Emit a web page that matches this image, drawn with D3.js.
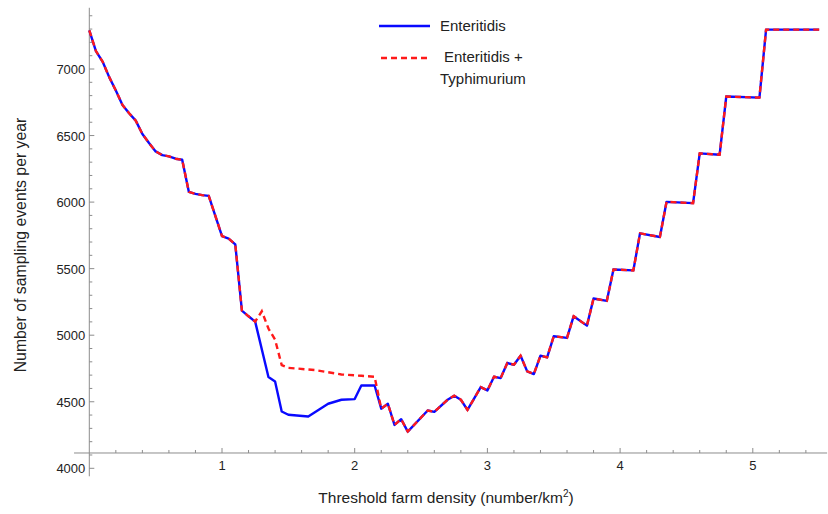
<!DOCTYPE html>
<html>
<head>
<meta charset="utf-8">
<script src="https://cdn.jsdelivr.net/npm/d3@7"></script>
<style>
  body { margin: 0; background: #fff; }
  svg { font-family: "Liberation Sans", Arial, sans-serif; }
</style>
</head>
<body>
<div id="graph_draw"></div>
<script>
// threshold farm density (number/km2) and sampling events per year
var thresholdE = [0, 0.05, 0.1, 0.15, 0.2, 0.25, 0.3, 0.35, 0.4, 0.45, 0.5, 0.55, 0.6, 0.65, 0.7,
    0.75, 0.8, 0.85, 0.9, 1.0, 1.05, 1.1, 1.15, 1.2, 1.25, 1.35, 1.4, 1.45, 1.5, 1.65, 1.8, 1.9,
    2.0, 2.05, 2.15, 2.2, 2.25, 2.3, 2.35, 2.4, 2.55, 2.6, 2.7, 2.75, 2.8, 2.85, 2.95, 3.0, 3.05,
    3.1, 3.15, 3.2, 3.25, 3.3, 3.35, 3.4, 3.45, 3.5, 3.6, 3.65, 3.75, 3.8, 3.9, 3.95, 4.1, 4.15,
    4.3, 4.35, 4.55, 4.6, 4.75, 4.8, 5.05, 5.1, 5.5];
var eventsE = [7290, 7135, 7056, 6939, 6838, 6730, 6668, 6612, 6512, 6444, 6381, 6353, 6344, 6326, 6318,
    6077, 6062, 6052, 6047, 5745, 5726, 5683, 5185, 5142, 5102, 4686, 4653, 4427, 4402, 4389, 4485, 4515,
    4520, 4622, 4622, 4448, 4485, 4326, 4369, 4276, 4434, 4424, 4515, 4545, 4515, 4439, 4610, 4585, 4688,
    4678, 4791, 4778, 4846, 4728, 4708, 4846, 4834, 4992, 4980, 5143, 5072, 5276, 5258, 5494, 5487, 5765,
    5738, 6002, 5992, 6366, 6356, 6793, 6785, 7296, 7296];

var thresholdET = [0, 0.05, 0.1, 0.15, 0.2, 0.25, 0.3, 0.35, 0.4, 0.45, 0.5, 0.55, 0.6, 0.65, 0.7,
    0.75, 0.8, 0.85, 0.9, 1.0, 1.05, 1.1, 1.15, 1.2, 1.25, 1.3, 1.35, 1.4, 1.45, 1.5, 1.7, 1.9,
    2.05, 2.15, 2.2, 2.25, 2.3, 2.35, 2.4, 2.55, 2.6, 2.7, 2.75, 2.8, 2.85, 2.95, 3.0, 3.05,
    3.1, 3.15, 3.2, 3.25, 3.3, 3.35, 3.4, 3.45, 3.5, 3.6, 3.65, 3.75, 3.8, 3.9, 3.95, 4.1, 4.15,
    4.3, 4.35, 4.55, 4.6, 4.75, 4.8, 5.05, 5.1, 5.5];
var eventsET = [7290, 7135, 7056, 6939, 6838, 6730, 6668, 6612, 6512, 6444, 6381, 6353, 6344, 6326, 6318,
    6077, 6062, 6052, 6047, 5745, 5726, 5683, 5185, 5142, 5102, 5180, 5050, 4967, 4775, 4755, 4738, 4705,
    4695, 4688, 4448, 4485, 4326, 4369, 4276, 4434, 4424, 4515, 4545, 4515, 4439, 4610, 4585, 4688,
    4678, 4791, 4778, 4846, 4728, 4708, 4846, 4834, 4992, 4980, 5143, 5072, 5276, 5258, 5494, 5487, 5765,
    5738, 6002, 5992, 6366, 6356, 6793, 6785, 7296, 7296];

var xTicks = [1, 2, 3, 4, 5];
var yTicks = [4000, 4500, 5000, 5500, 6000, 6500, 7000];
var legendLabels = ["Enteritidis", ["Enteritidis +", "Typhimurium"]];

var width = 828, height = 514;

var svg = d3.select("#graph_draw").append("svg")
    .attr("width", width)
    .attr("height", height);

// scales
var x = d3.scaleLinear().domain([0, 5]).range([89.3, 752.8]);
var y = d3.scaleLinear().domain([4000, 7000]).range([468.3, 69]);

var axisColor = "#8c8c8c";
var xAxisY = y(4115);

// x axis line
svg.append("line")
    .attr("x1", x(-0.115)).attr("x2", x(5.56))
    .attr("y1", xAxisY).attr("y2", xAxisY)
    .attr("stroke", axisColor).attr("stroke-width", 1);

// y axis line
svg.append("line")
    .attr("x1", x(0)).attr("x2", x(0))
    .attr("y1", y(7460)).attr("y2", y(3940))
    .attr("stroke", axisColor).attr("stroke-width", 1);

// x ticks (pointing into the plot)
var xMinor = d3.range(0.2, 5.6, 0.2).filter(function(d) { return Math.abs(d - Math.round(d)) > 0.01; });
svg.selectAll(".xminor").data(xMinor).enter().append("line")
    .attr("x1", function(d) { return x(d); }).attr("x2", function(d) { return x(d); })
    .attr("y1", xAxisY).attr("y2", xAxisY - 3)
    .attr("stroke", axisColor);
svg.selectAll(".xmajor").data(xTicks).enter().append("line")
    .attr("x1", function(d) { return x(d); }).attr("x2", function(d) { return x(d); })
    .attr("y1", xAxisY).attr("y2", xAxisY - 5)
    .attr("stroke", axisColor);
svg.selectAll(".xlab").data(xTicks).enter().append("text")
    .attr("x", function(d) { return x(d); })
    .attr("y", xAxisY + 17)
    .attr("text-anchor", "middle")
    .attr("font-size", 13)
    .attr("fill", "#222")
    .text(function(d) { return d; });

// y ticks
var yMinor = d3.range(4100, 7500, 100).filter(function(d) { return d % 500 !== 0; });
svg.selectAll(".yminor").data(yMinor).enter().append("line")
    .attr("x1", x(0)).attr("x2", x(0) + 3)
    .attr("y1", function(d) { return y(d); }).attr("y2", function(d) { return y(d); })
    .attr("stroke", axisColor);
svg.selectAll(".ymajor").data(yTicks).enter().append("line")
    .attr("x1", x(0)).attr("x2", x(0) + 5)
    .attr("y1", function(d) { return y(d); }).attr("y2", function(d) { return y(d); })
    .attr("stroke", axisColor);
svg.selectAll(".ylab").data(yTicks).enter().append("text")
    .attr("x", x(0) - 4)
    .attr("y", function(d) { return y(d) + 5; })
    .attr("text-anchor", "end")
    .attr("font-size", 13)
    .attr("fill", "#222")
    .text(function(d) { return d; });

// axis titles
svg.append("text")
    .attr("transform", "translate(26,245) rotate(-90)")
    .attr("text-anchor", "middle")
    .attr("font-size", 15.8)
    .attr("fill", "#222")
    .text("Number of sampling events per year");

var xt = svg.append("text")
    .attr("x", 446).attr("y", 503)
    .attr("text-anchor", "middle")
    .attr("font-size", 15.5)
    .attr("fill", "#222");
xt.append("tspan").text("Threshold farm density (number/km");
xt.append("tspan").attr("font-size", 10).attr("dy", -6).text("2");
xt.append("tspan").attr("dy", 6).text(")");

// lines
var line = d3.line()
    .x(function(d) { return x(d[0]); })
    .y(function(d) { return y(d[1]); });

var dataE = thresholdE.map(function(d, i) { return [d, eventsE[i]]; });
var dataET = thresholdET.map(function(d, i) { return [d, eventsET[i]]; });

svg.append("path")
    .datum(dataE)
    .attr("d", line)
    .attr("fill", "none")
    .attr("stroke", "#0a0aff")
    .attr("stroke-width", 2.4)
    .attr("stroke-linejoin", "round");

svg.append("path")
    .datum(dataET)
    .attr("d", line)
    .attr("fill", "none")
    .attr("stroke", "#ff1a1a")
    .attr("stroke-width", 2.4)
    .attr("stroke-dasharray", "6,4");

// legend
svg.append("line")
    .attr("x1", 379).attr("x2", 430).attr("y1", 26).attr("y2", 26)
    .attr("stroke", "#0a0aff").attr("stroke-width", 2.4);
svg.append("text")
    .attr("x", 440).attr("y", 31)
    .attr("font-size", 15).attr("fill", "#222")
    .text(legendLabels[0]);

svg.append("line")
    .attr("x1", 381).attr("x2", 428).attr("y1", 58).attr("y2", 58)
    .attr("stroke", "#ff1a1a").attr("stroke-width", 2.4)
    .attr("stroke-dasharray", "6,4");
svg.append("text")
    .attr("x", 444).attr("y", 62)
    .attr("font-size", 15).attr("fill", "#222")
    .text(legendLabels[1][0]);
svg.append("text")
    .attr("x", 440).attr("y", 84)
    .attr("font-size", 15).attr("fill", "#222")
    .text(legendLabels[1][1]);
</script>
</body>
</html>
